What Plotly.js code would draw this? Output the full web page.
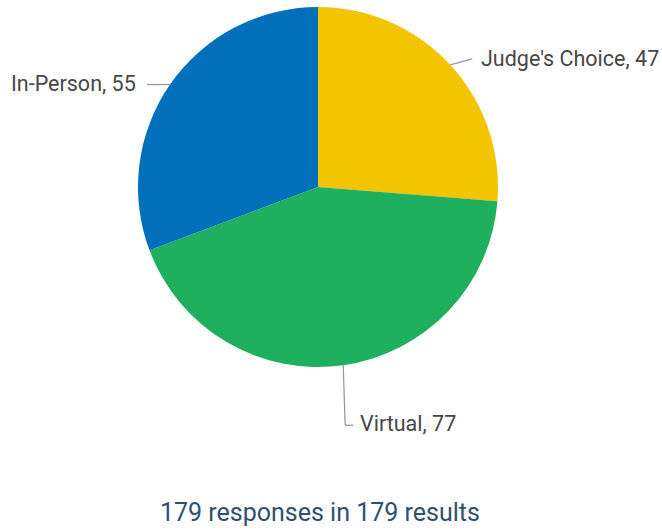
<!DOCTYPE html>
<html><head><meta charset="utf-8">
<script src="https://cdn.plot.ly/plotly-3.0.1.min.js"></script>
<style>html,body{margin:0;padding:0;background:#fff;}#chart{width:662px;height:531px;}</style>
</head><body><div id="chart"></div>
<script>
const labels = ["Judge's Choice", "Virtual", "In-Person"];
const values = [47, 77, 55];
const colors = ["#F3C400", "#1EB05E", "#0070BA"];
const footer = "179 responses in 179 results";

const W = 662, H = 531;
const cx = 318, cy = 187, R = 180;
const total = values.reduce((a, b) => a + b, 0);

let cum = 0;
const shapes = [], annotations = [];
const px = x => x / W, py = y => 1 - y / H;
values.forEach((v, i) => {
  const mid = (cum + v / 2) / total * 2 * Math.PI;
  cum += v;
  const ex = cx + R * Math.sin(mid), ey = cy - R * Math.cos(mid);
  const txt = labels[i] + ", " + v;
  let pts, ax, ay, anchor;
  const s = Math.sin(mid), c = Math.cos(mid);
  if (c < -0.8) {
    pts = [[ex, ey], [ex + 2, ey + 60], [ex + 10, ey + 60]];
    ax = ex + 15; ay = ey + 58; anchor = 'left';
  } else if (s > 0) {
    pts = [[ex, ey], [ex + 22, ey - 6]];
    ax = ex + 29; ay = ey - 6; anchor = 'left';
  } else {
    pts = [[ex, ey], [ex - 23, ey]];
    ax = ex - 32; ay = ey - 1; anchor = 'right';
  }
  for (let k = 0; k < pts.length - 1; k++) {
    shapes.push({type: 'line', xref: 'paper', yref: 'paper',
      x0: px(pts[k][0]), y0: py(pts[k][1]), x1: px(pts[k + 1][0]), y1: py(pts[k + 1][1]),
      line: {color: '#9a9a9a', width: 1.3}});
  }
  annotations.push({xref: 'paper', yref: 'paper', x: px(ax), y: py(ay),
    xanchor: anchor, yanchor: 'middle', showarrow: false, text: txt,
    font: {family: 'Roboto', size: 21.5, color: '#474747'}});
});
annotations.push({xref: 'paper', yref: 'paper', x: px(320), y: py(512),
  xanchor: 'center', yanchor: 'middle', showarrow: false, text: footer,
  font: {family: 'Roboto', size: 25, color: '#31506F'}});

const trace = {
  type: 'pie', labels: labels, values: values, sort: false, direction: 'clockwise',
  rotation: 0, marker: {colors: colors, line: {width: 0}}, textinfo: 'none',
  hoverinfo: 'label+value',
  domain: {x: [px(cx - R), px(cx + R)], y: [py(cy + R), py(cy - R)]}
};
const layout = {
  width: W, height: H, margin: {l: 0, r: 0, t: 0, b: 0}, showlegend: false,
  paper_bgcolor: '#fff', shapes: shapes, annotations: annotations,
  font: {family: 'Roboto'}
};
Plotly.newPlot('chart', [trace], layout, {displayModeBar: false});
</script></body></html>
